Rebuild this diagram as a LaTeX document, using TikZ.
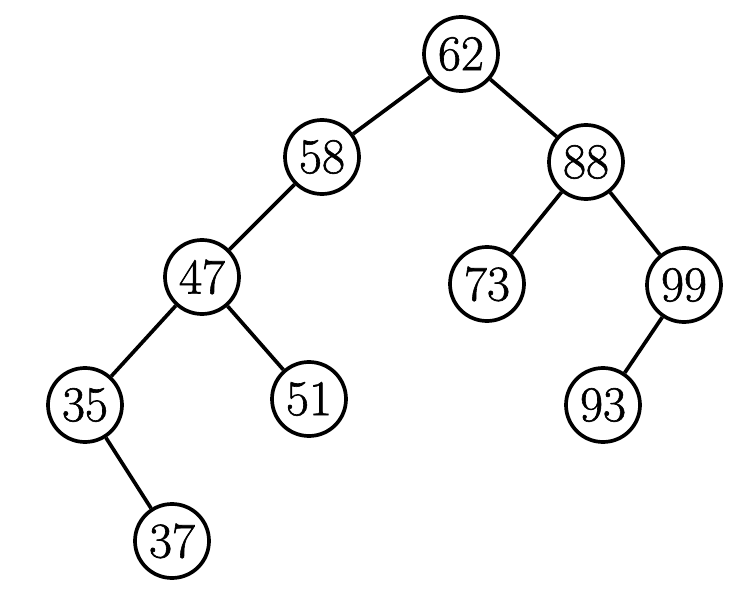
\documentclass[tikz,border=0pt]{standalone}
\usepackage{fontspec}
\newfontfamily\numfont{Latin Modern Roman}[FakeBold=1.2]
\begin{document}
\begin{tikzpicture}[x=1pt,y=-1pt,
  treenode/.style={circle,draw=black,line width=3.7pt,minimum size=74pt,inner sep=0pt,font=\numfont\fontsize{50}{50}\selectfont},
  edge/.style={line width=3.7pt}]
\useasboundingbox (0,0) rectangle (740,591);
\node[treenode] (n62) at (461,54) {62};
\node[treenode] (n58) at (322,157) {58};
\node[treenode] (n88) at (586,162) {88};
\node[treenode] (n47) at (202,277) {47};
\node[treenode] (n73) at (487,284) {73};
\node[treenode] (n99) at (684,285) {99};
\node[treenode] (n35) at (85,405) {35};
\node[treenode] (n51) at (309,399) {51};
\node[treenode] (n93) at (603,405) {93};
\node[treenode] (n37) at (172,541) {37};
\draw[edge] (n62) -- (n58);
\draw[edge] (n62) -- (n88);
\draw[edge] (n58) -- (n47);
\draw[edge] (n88) -- (n73);
\draw[edge] (n88) -- (n99);
\draw[edge] (n47) -- (n35);
\draw[edge] (n47) -- (n51);
\draw[edge] (n99) -- (n93);
\draw[edge] (n35) -- (n37);
\end{tikzpicture}
\end{document}
